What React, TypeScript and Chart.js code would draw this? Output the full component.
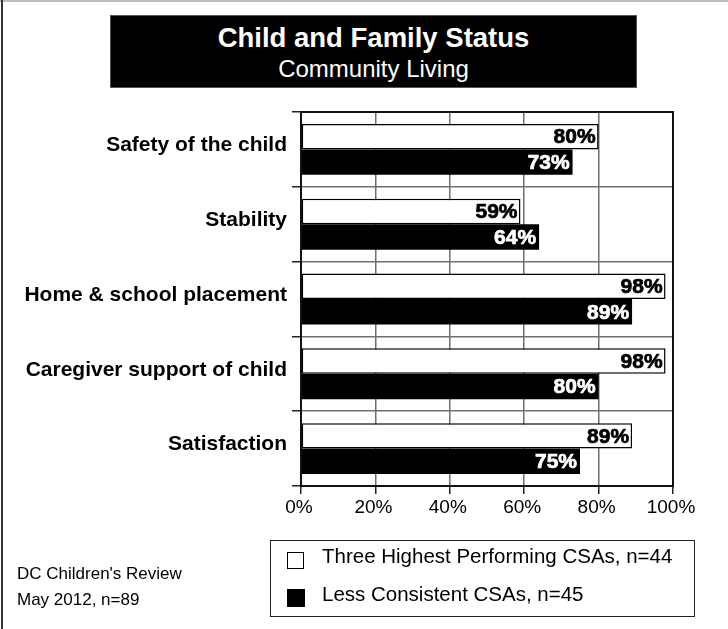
import React, { useEffect, useRef } from "react";
import { Chart, registerables } from "chart.js";

Chart.register(...registerables);

const categories = [
  "Safety of the child",
  "Stability",
  "Home & school placement",
  "Caregiver support of child",
  "Satisfaction",
];
const highestValues = [80, 59, 98, 98, 89];
const lessConsistentValues = [73, 64, 89, 80, 75];
const seriesNames = ["Three Highest Performing CSAs, n=44", "Less Consistent CSAs, n=45"];
const xTickValues = [0, 20, 40, 60, 80, 100];
const titleText = "Child and Family Status";
const subtitleText = "Community Living";
const footnoteLines = ["DC Children's Review", "May 2012, n=89"];

const FONT = "'Liberation Sans', Arial, Helvetica, sans-serif";
const GRID = "#6e6e6e";

const dataLabelPlugin = {
  id: "dataLabels",
  afterDatasetsDraw(chart: any) {
    const ctx = chart.ctx;
    ctx.save();
    ctx.font = `bold 21px ${FONT}`;
    ctx.textAlign = "right";
    ctx.textBaseline = "middle";
    ctx.lineJoin = "round";
    chart.data.datasets.forEach((ds: any, di: number) => {
      const meta = chart.getDatasetMeta(di);
      meta.data.forEach((bar: any, i: number) => {
        const c = di === 0 ? "#000" : "#fff";
        ctx.fillStyle = c;
        ctx.strokeStyle = c;
        ctx.lineWidth = 0.7;
        const t = ds.data[i] + "%";
        ctx.fillText(t, bar.x - 3, bar.y + 1);
        ctx.strokeText(t, bar.x - 3, bar.y + 1);
      });
    });
    ctx.restore();
  },
};

const framePlugin = {
  id: "plotFrame",
  afterDraw(chart: any) {
    const { ctx, chartArea } = chart;
    ctx.save();
    ctx.strokeStyle = "#111";
    ctx.lineWidth = 2;
    ctx.strokeRect(chartArea.left, chartArea.top, chartArea.right - chartArea.left, chartArea.bottom - chartArea.top);
    ctx.restore();
  },
};

export default function App() {
  const canvasRef = useRef<HTMLCanvasElement | null>(null);

  useEffect(() => {
    const canvas = canvasRef.current;
    if (!canvas) return;
    const chart = new Chart(canvas, {
      type: "bar",
      data: {
        labels: categories,
        datasets: [
          {
            label: seriesNames[0],
            data: highestValues,
            backgroundColor: "#ffffff",
            borderColor: "#000000",
            borderWidth: 1.5,
            borderSkipped: false,
            categoryPercentage: 0.68,
            barPercentage: 1.0,
          },
          {
            label: seriesNames[1],
            data: lessConsistentValues,
            backgroundColor: "#000000",
            borderWidth: 0,
            categoryPercentage: 0.68,
            barPercentage: 1.0,
          },
        ],
      },
      options: {
        indexAxis: "y",
        animation: false,
        responsive: false,
        maintainAspectRatio: false,
        devicePixelRatio: 1,
        layout: { padding: { left: 0, top: 112, right: 55, bottom: 103 } },
        plugins: { legend: { display: false }, tooltip: { enabled: false } },
        scales: {
          x: {
            min: 0,
            max: 100,
            afterBuildTicks: (scale: any) => {
              scale.ticks = xTickValues.map((v) => ({ value: v }));
            },
            ticks: {
              stepSize: 20,
              maxRotation: 0,
              color: "#000",
              padding: 2,
              labelOffset: -2,
              font: { family: FONT, size: 19 },
              callback: (v: any) => v + "%",
            },
            grid: { color: GRID, lineWidth: 1.5, tickLength: 8, tickColor: "#222", tickWidth: 1.5 },
            border: { display: false },
            afterFit: (scale: any) => {
              scale.height = 40;
              scale.paddingLeft = 0;
              scale.paddingRight = 0;
            },
          },
          y: {
            grid: { offset: true, color: GRID, lineWidth: 1.5, tickLength: 9, tickColor: "#222", tickWidth: 1.5 },
            ticks: {
              color: "#000",
              padding: 5,
              labelOffset: -4,
              font: { family: FONT, size: 21, weight: "bold" },
            },
            border: { display: false },
            afterFit: (scale: any) => {
              scale.width = 301;
              scale.paddingTop = 0;
              scale.paddingBottom = 0;
            },
          },
        },
      } as any,
      plugins: [dataLabelPlugin, framePlugin],
    });
    return () => chart.destroy();
  }, []);

  const abs = (o: React.CSSProperties): React.CSSProperties => ({ position: "absolute", ...o });

  return (
    <div style={{ position: "fixed", left: 0, top: 0, width: 728, height: 629, background: "#fff", overflow: "hidden", fontFamily: FONT }}>
      <canvas ref={canvasRef} width={728} height={629} style={abs({ left: 0, top: 0, width: 728, height: 629 })} />
      <div style={abs({ left: 0, top: 0, width: 728, height: 1.5, background: "#bdbdbd" })} />
      <div style={abs({ left: 1, top: 0, width: 1.5, height: 629, background: "#333" })} />
      <div style={abs({ left: 110, top: 15, width: 527, height: 73, background: "#000", boxSizing: "border-box", border: "1px solid #555" })} />
      <div style={abs({ left: 110, top: 23.5, width: 527, textAlign: "center", color: "#fff", fontWeight: "bold", fontSize: 27.5, lineHeight: "27.5px", whiteSpace: "nowrap" })}>{titleText}</div>
      <div style={abs({ left: 110, top: 56.5, width: 527, textAlign: "center", color: "#fff", fontSize: 24, lineHeight: "24px", whiteSpace: "nowrap" })}>{subtitleText}</div>
      <div style={abs({ left: 17, top: 564.5, color: "#000", fontSize: 17, lineHeight: "17px", whiteSpace: "nowrap" })}>{footnoteLines[0]}</div>
      <div style={abs({ left: 17, top: 590.5, color: "#000", fontSize: 17, lineHeight: "17px", whiteSpace: "nowrap" })}>{footnoteLines[1]}</div>
      <div style={abs({ left: 270, top: 540, width: 425, height: 77, boxSizing: "border-box", border: "1.5px solid #222" })} />
      <div style={abs({ left: 287, top: 552, width: 17, height: 17, boxSizing: "border-box", border: "1.5px solid #000", background: "#fff" })} />
      <div style={abs({ left: 287, top: 589, width: 18, height: 18, background: "#000" })} />
      <div style={abs({ left: 322, top: 545.5, color: "#000", fontSize: 20.5, lineHeight: "20.5px", whiteSpace: "nowrap" })}>{seriesNames[0]}</div>
      <div style={abs({ left: 322, top: 584.3, color: "#000", fontSize: 20.5, lineHeight: "20.5px", whiteSpace: "nowrap" })}>{seriesNames[1]}</div>
    </div>
  );
}
